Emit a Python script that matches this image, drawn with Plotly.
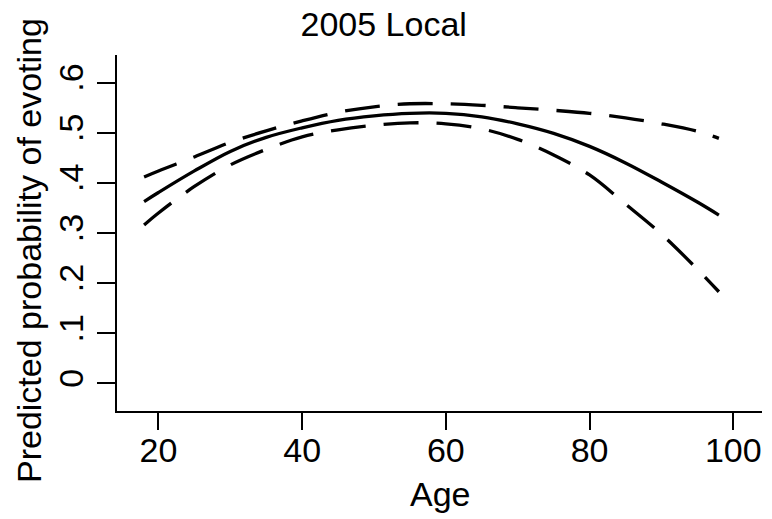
import plotly.graph_objects as go

age = [18, 20, 25, 30, 35, 40, 45, 50, 55, 60, 65, 70, 75, 80, 85, 90, 95, 98]
pred = [0.363, 0.381, 0.424, 0.463, 0.491, 0.510, 0.525, 0.534, 0.539, 0.539,
        0.532, 0.518, 0.499, 0.473, 0.440, 0.402, 0.362, 0.336]
upper = [0.412, 0.424, 0.452, 0.481, 0.504, 0.524, 0.541, 0.552, 0.558, 0.558,
         0.555, 0.550, 0.545, 0.539, 0.530, 0.518, 0.503, 0.489]
lower = [0.316, 0.340, 0.393, 0.436, 0.467, 0.492, 0.506, 0.515, 0.520, 0.518,
         0.508, 0.487, 0.456, 0.416, 0.358, 0.298, 0.228, 0.183]

x_ticks = [20, 40, 60, 80, 100]
y_ticks = [0, 0.1, 0.2, 0.3, 0.4, 0.5, 0.6]
y_tick_labels = ["0", ".1", ".2", ".3", ".4", ".5", ".6"]

FONT = "Liberation Sans, Arial, Helvetica, sans-serif"
FS = 34

L, R, T, B = 117, 10, 55, 108
W, H = 772, 519
pw = W - L - R
ph = H - T - B

fig = go.Figure()
for ys, dash in [(upper, "35px,18px"), (pred, "solid"), (lower, "35px,18px")]:
    fig.add_trace(go.Scatter(x=age, y=ys, mode="lines",
                             line=dict(color="black", width=3.3, dash=dash,
                                       shape="spline", smoothing=1.0),
                             showlegend=False, hoverinfo="skip"))

fig.update_layout(
    width=W, height=H,
    margin=dict(l=L, r=R, t=T, b=B),
    paper_bgcolor="white", plot_bgcolor="white",
    font=dict(family=FONT, size=FS, color="black"),
    title=dict(text="2005 Local", x=0.497, xref="container", y=1 - 24 / H, yref="container",
               yanchor="middle", xanchor="center", font=dict(size=FS)),
    xaxis=dict(range=[14.23, 104.0], tickvals=x_ticks, ticks="outside", ticklen=17,
               tickwidth=2, tickcolor="black", showline=True, linewidth=2, linecolor="black",
               showgrid=False, zeroline=False, tickfont=dict(size=FS),
               ticklabelstandoff=-9),
    yaxis=dict(range=[-0.0549, 0.6553], tickvals=y_ticks, ticktext=y_tick_labels,
               ticks="outside", ticklen=18, tickwidth=2, tickcolor="black",
               showline=True, linewidth=2, linecolor="black", showgrid=False,
               zeroline=False, tickangle=-90, tickfont=dict(size=FS)),
    annotations=[
        dict(text="Age", x=(440 - L) / pw, y=(H - B - 494) / ph, xref="paper", yref="paper",
             showarrow=False, font=dict(size=FS), xanchor="center", yanchor="middle"),
        dict(text="Predicted probability of evoting", x=(29 - L) / pw, y=(H - B - 251) / ph,
             xref="paper", yref="paper", showarrow=False, textangle=-90,
             font=dict(size=FS), xanchor="center", yanchor="middle"),
    ],
)

fig.write_html("out.html")
